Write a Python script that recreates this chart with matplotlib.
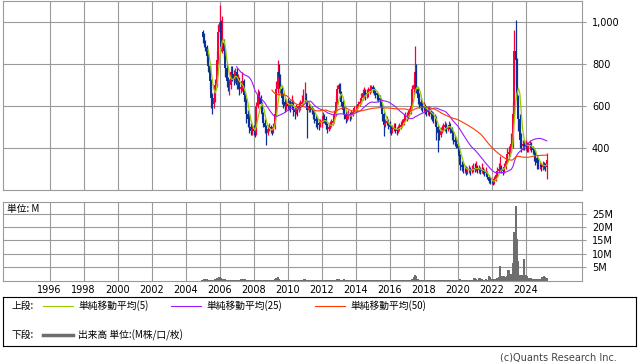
import numpy as np
import pandas as pd
import matplotlib
matplotlib.use("Agg")
import matplotlib.pyplot as plt
from matplotlib.lines import Line2D

# monthly candles, Jan 2005 .. Apr 2025
open_px = [
    950, 930, 905, 880, 840, 790, 720, 640, 610, 640, 700, 820,   # 2005
    950, 1000, 880, 900, 860, 780, 720, 700, 700, 760, 750, 730,  # 2006
    760, 700, 720, 680, 690, 720, 650, 620, 560, 540, 500, 480,   # 2007
    490, 480, 470, 600, 650, 640, 610, 560, 520, 500, 470, 490,   # 2008
    500, 490, 480, 500, 560, 680, 760, 740, 680, 640, 620, 600,   # 2009
    610, 600, 610, 600, 620, 580, 570, 590, 580, 600, 610, 620,   # 2010
    640, 640, 620, 580, 600, 590, 580, 570, 540, 530, 520, 510,   # 2011
    520, 530, 550, 540, 510, 490, 500, 510, 520, 530, 560, 620,   # 2012
    680, 700, 660, 620, 580, 560, 540, 550, 560, 550, 560, 570,   # 2013
    590, 590, 600, 610, 620, 640, 660, 670, 650, 660, 670, 680,   # 2014
    690, 680, 670, 660, 650, 640, 630, 600, 560, 510, 520, 530,   # 2015
    510, 500, 480, 490, 500, 490, 480, 490, 500, 510, 520, 540,   # 2016
    550, 550, 560, 570, 600, 680, 700, 760, 680, 640, 620, 600,   # 2017
    590, 600, 580, 570, 580, 570, 560, 550, 540, 540, 500, 470,   # 2018
    460, 480, 490, 500, 510, 490, 500, 510, 490, 470, 440, 430,   # 2019
    420, 400, 360, 320, 310, 300, 300, 290, 295, 300, 290, 300,   # 2020
    305, 300, 310, 295, 300, 290, 295, 290, 280, 285, 260, 245,   # 2021
    240, 240, 235, 250, 270, 290, 300, 310, 300, 290, 310, 340,   # 2022
    370, 380, 390, 420, 560, 860, 820, 640, 540, 440, 410, 420,   # 2023
    410, 420, 400, 410, 420, 400, 390, 380, 350, 330, 320, 320,   # 2024
    310, 320, 315, 310,                                           # 2025
]
high_px = [
    960, 945, 915, 890, 850, 800, 730, 660, 670, 730, 860, 990,
    1080, 1010, 1030, 920, 870, 800, 740, 730, 790, 790, 770, 780,
    780, 750, 740, 720, 760, 730, 670, 640, 580, 560, 520, 510,
    510, 500, 620, 680, 670, 650, 620, 570, 540, 510, 510, 520,
    510, 500, 520, 580, 720, 820, 800, 750, 690, 660, 640, 630,
    640, 630, 630, 650, 630, 600, 610, 600, 620, 630, 650, 680,
    715, 660, 630, 620, 610, 600, 590, 580, 560, 550, 540, 540,
    550, 570, 560, 550, 520, 520, 530, 540, 550, 580, 650, 700,
    710, 710, 670, 630, 600, 580, 570, 580, 570, 580, 590, 600,
    605, 610, 625, 640, 660, 680, 690, 680, 680, 690, 700, 700,
    700, 690, 680, 670, 660, 650, 640, 610, 570, 540, 550, 540,
    530, 510, 510, 520, 520, 500, 510, 520, 530, 540, 560, 570,
    570, 580, 590, 620, 700, 740, 884, 800, 690, 660, 640, 620,
    620, 610, 600, 600, 600, 580, 575, 570, 560, 550, 510, 490,
    500, 510, 520, 530, 520, 510, 530, 520, 500, 480, 460, 450,
    430, 410, 370, 340, 330, 320, 315, 310, 320, 310, 320, 330,
    330, 340, 320, 320, 310, 330, 310, 300, 310, 290, 270, 260,
    255, 250, 265, 290, 310, 330, 360, 320, 310, 330, 360, 400,
    410, 420, 470, 620, 960, 1010, 830, 650, 560, 470, 440, 440,
    440, 430, 430, 440, 430, 410, 400, 390, 360, 350, 340, 330,
    340, 335, 330, 375,
]
low_px = [
    900, 880, 860, 810, 760, 680, 590, 560, 590, 620, 690, 800,
    920, 860, 850, 830, 740, 690, 670, 650, 680, 720, 700, 710,
    680, 680, 650, 660, 670, 630, 580, 520, 500, 470, 460, 460,
    460, 450, 460, 590, 610, 590, 540, 500, 470, 415, 460, 480,
    470, 460, 470, 490, 550, 660, 700, 660, 610, 590, 570, 580,
    580, 580, 570, 590, 550, 540, 560, 550, 570, 580, 600, 610,
    620, 600, 446, 570, 570, 560, 540, 520, 500, 490, 486, 500,
    500, 520, 520, 490, 470, 480, 490, 500, 510, 520, 550, 610,
    660, 650, 600, 560, 540, 520, 530, 540, 530, 540, 550, 565,
    570, 575, 590, 600, 610, 630, 640, 630, 640, 645, 655, 665,
    660, 650, 640, 630, 620, 600, 580, 530, 455, 500, 510, 490,
    470, 460, 470, 480, 470, 460, 470, 480, 490, 500, 510, 530,
    530, 540, 550, 560, 590, 650, 680, 660, 610, 590, 580, 570,
    570, 560, 550, 555, 550, 540, 530, 520, 510, 440, 382, 440,
    450, 470, 480, 480, 470, 480, 490, 470, 440, 420, 410, 400,
    380, 340, 296, 290, 280, 280, 270, 275, 280, 270, 280, 285,
    285, 290, 280, 280, 275, 280, 275, 265, 270, 250, 235, 230,
    228, 225, 230, 245, 260, 280, 285, 280, 270, 280, 300, 330,
    350, 360, 380, 400, 540, 700, 600, 480, 400, 380, 390, 390,
    390, 380, 380, 390, 380, 370, 340, 320, 300, 300, 300, 290,
    295, 300, 290, 250,
]
close_px = [
    930, 905, 880, 840, 790, 720, 640, 610, 640, 700, 820, 950,
    1000, 880, 900, 860, 780, 720, 700, 700, 760, 750, 730, 760,
    700, 720, 680, 690, 720, 650, 620, 560, 540, 500, 480, 490,
    480, 470, 600, 650, 640, 610, 560, 520, 500, 470, 490, 500,
    490, 480, 500, 560, 680, 760, 740, 680, 640, 620, 600, 610,
    600, 610, 600, 620, 580, 570, 590, 580, 600, 610, 620, 640,
    640, 620, 580, 600, 590, 580, 570, 540, 530, 520, 510, 520,
    530, 550, 540, 510, 490, 500, 510, 520, 530, 560, 620, 680,
    700, 660, 620, 580, 560, 540, 550, 560, 550, 560, 570, 590,
    590, 600, 610, 620, 640, 660, 670, 650, 660, 670, 680, 690,
    680, 670, 660, 650, 640, 630, 600, 560, 510, 520, 530, 510,
    500, 480, 490, 500, 490, 480, 490, 500, 510, 520, 540, 550,
    550, 560, 570, 600, 680, 700, 760, 680, 640, 620, 600, 590,
    600, 580, 570, 580, 570, 560, 550, 540, 540, 500, 470, 460,
    480, 490, 500, 510, 490, 500, 510, 490, 470, 440, 430, 420,
    400, 360, 320, 310, 300, 300, 290, 295, 300, 290, 300, 305,
    300, 310, 295, 300, 290, 295, 290, 280, 285, 260, 245, 240,
    240, 235, 250, 270, 290, 300, 310, 300, 290, 310, 340, 370,
    380, 390, 420, 560, 860, 820, 640, 540, 440, 410, 420, 410,
    420, 400, 410, 420, 400, 390, 380, 350, 330, 320, 320, 310,
    320, 315, 310, 345,
]
# volume in millions of shares
volume_m = [
    0.3, 0.4, 0.5, 0.4, 0.3, 0.3, 0.2, 0.2, 0.3, 0.5, 0.9, 1.0,
    1.2, 0.8, 0.6, 0.6, 0.4, 0.3, 0.3, 0.2, 0.3, 0.3, 0.2, 0.2,
    0.2, 0.2, 0.3, 0.5, 0.7, 0.6, 0.4, 0.3, 0.3, 0.2, 0.3, 0.2,
    0.2, 0.2, 0.3, 0.3, 0.2, 0.2, 0.2, 0.2, 0.3, 0.2, 0.2, 0.2,
    0.2, 0.2, 0.2, 0.4, 1.1, 1.3, 0.6, 0.3, 0.2, 0.2, 0.2, 0.2,
    0.2, 0.2, 0.2, 0.2, 0.1, 0.1, 0.2, 0.1, 0.1, 0.2, 0.2, 0.3,
    0.4, 0.2, 0.3, 0.2, 0.1, 0.1, 0.1, 0.1, 0.1, 0.1, 0.1, 0.1,
    0.1, 0.1, 0.1, 0.1, 0.1, 0.1, 0.1, 0.1, 0.1, 0.2, 0.3, 0.4,
    0.4, 0.3, 0.2, 0.3, 0.4, 0.3, 0.2, 0.2, 0.2, 0.1, 0.1, 0.1,
    0.1, 0.1, 0.1, 0.1, 0.2, 0.2, 0.3, 0.2, 0.2, 0.2, 0.2, 0.2,
    0.2, 0.1, 0.1, 0.1, 0.1, 0.1, 0.1, 0.2, 0.2, 0.1, 0.1, 0.1,
    0.1, 0.1, 0.1, 0.1, 0.1, 0.1, 0.1, 0.1, 0.3, 0.1, 0.1, 0.1,
    0.1, 0.1, 0.1, 0.2, 0.5, 1.2, 2.2, 1.6, 0.6, 0.3, 0.2, 0.2,
    0.2, 0.1, 0.1, 0.1, 0.1, 0.1, 0.1, 0.3, 0.2, 0.2, 0.3, 0.2,
    0.1, 0.1, 0.1, 0.1, 0.1, 0.2, 0.3, 0.3, 0.2, 0.1, 0.1, 0.1,
    0.1, 0.2, 0.4, 0.2, 0.2, 0.3, 0.3, 0.2, 0.2, 0.1, 0.2, 0.2,
    1.1, 0.5, 0.3, 0.8, 1.0, 0.4, 0.3, 0.3, 0.5, 0.3, 1.6, 1.2,
    0.5, 0.4, 0.6, 0.7, 0.8, 1.2, 5.4, 1.6, 1.5, 1.6, 1.4, 1.6,
    4.1, 2.2, 2.3, 6.6, 18.2, 27.9, 15.4, 7.2, 2.2, 2.2, 2.2, 7.9,
    2.2, 1.8, 1.0, 1.1, 0.9, 0.7, 0.6, 0.7, 0.5, 0.4, 0.4, 0.5,
    1.2, 1.5, 1.4, 0.9,
]
year_ticks = list(range(1996, 2025, 2))
price_ticks = [400, 600, 800, 1000]
vol_ticks = [5, 10, 15, 20, 25]

RED = "#f5003c"
BLUE = "#0a3296"
GRID = "#9a9a9a"
JP = ["Noto Sans CJK JP", "DejaVu Sans"]

months = pd.date_range("2005-01-01", periods=len(close_px), freq="MS")
xs = np.asarray(months.year + (months.month - 1) / 12.0)
o = np.array(open_px, float)
h = np.array(high_px, float)
l = np.array(low_px, float)
c = np.array(close_px, float)
cl = pd.Series(c)
ma5 = cl.rolling(5).mean()
ma25 = cl.rolling(25).mean()
ma50 = cl.rolling(50).mean()

W, H = 638, 362
fig = plt.figure(figsize=(W / 100, H / 100), dpi=100)

def box(x0, y0, x1, y1):
    return [x0 / W, 1 - y1 / H, (x1 - x0) / W, (y1 - y0) / H]

xlim = (1996 + (3 - 49.5) / 17, 1996 + (582 - 49.5) / 17)

def style(ax):
    for s in ax.spines.values():
        s.set_color(GRID)
        s.set_linewidth(0.8)
    ax.grid(True, color=GRID, lw=0.8)
    ax.set_axisbelow(True)
    ax.yaxis.tick_right()
    ax.tick_params(axis="y", length=3.2, width=0.8, color=GRID, pad=4, labelsize=7)
    ax.tick_params(axis="x", length=0, labelsize=7, pad=3)
    ax.set_xlim(*xlim)
    ax.set_xticks(year_ticks)

# price panel
ax = fig.add_axes(box(3, 0.7, 582, 190))
style(ax)
cols = np.where(c >= o, RED, BLUE)
ax.vlines(xs, l, h, colors=cols, lw=0.9, zorder=2)
ax.bar(xs, np.abs(c - o), bottom=np.minimum(o, c), width=0.11,
       color=cols, linewidth=0, zorder=2)
ax.plot(xs, ma5, color="#99cc00", lw=0.9, zorder=3)
ax.plot(xs, ma25, color="#9b1cff", lw=0.8, zorder=3)
ax.plot(xs, ma50, color="#ff3c00", lw=0.8, zorder=3)
ax.set_ylim(200, 1101)
ax.set_yticks(price_ticks)
ax.set_yticklabels([f"{v:,}" for v in price_ticks])
ax.set_xticklabels([])

# volume panel
av = fig.add_axes(box(3, 202, 582, 280.5))
style(av)
av.bar(xs, volume_m, width=0.12, color="#6e6e6e", linewidth=0, zorder=2)
av.set_ylim(0, 29.4)
av.set_yticks(vol_ticks)
av.set_yticklabels([f"{v}M" for v in vol_ticks])
av.set_xticklabels([str(y) for y in year_ticks])
av.text(0.007, 0.915, "単位: M", transform=av.transAxes, fontsize=7,
        family=JP, va="center", ha="left")

# legend box
lg = fig.add_axes(box(3, 296.7, 636, 346))
lg.set_xlim(3, 636)
lg.set_ylim(346, 296.7)
lg.set_xticks([])
lg.set_yticks([])
for s in lg.spines.values():
    s.set_color("black")
    s.set_linewidth(0.8)
r1, r2 = 305.5, 335
lg.text(12, r1, "上段:", fontsize=7, family=JP, va="center")
lg.text(12, r2, "下段:", fontsize=7, family=JP, va="center")
for x0, col, lab in [(43, "#99cc00", "単純移動平均(5)"),
                     (171, "#9b1cff", "単純移動平均(25)"),
                     (315, "#ff3c00", "単純移動平均(50)")]:
    lg.add_line(Line2D([x0, x0 + 30], [r1, r1], color=col, lw=0.8))
    lg.text(x0 + 35, r1, lab, fontsize=7, family=JP, va="center")
lg.add_line(Line2D([43, 73], [r2, r2], color="#6e6e6e", lw=2.5))
lg.text(78, r2, "出来高 単位:(M株/口/枚)", fontsize=7, family=JP, va="center")

fig.text(617 / W, 1 - 357 / H, "(c)Quants Research Inc.", fontsize=7,
         ha="right", va="center", color="#444444")

fig.savefig("out.png", dpi=100)
